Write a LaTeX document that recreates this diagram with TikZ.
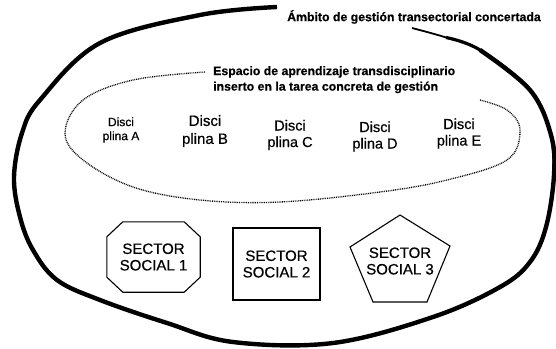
\documentclass[tikz,border=0pt]{standalone}
\usepackage{fontspec}
\setmainfont{Liberation Sans}
\newfontfamily\heavyfont{Liberation Sans}[FakeBold=0.5]
\newfontfamily\titlefont{Liberation Sans Bold}[FakeBold=0.6]
\begin{document}
\begin{tikzpicture}[x=1pt,y=-1pt,
  outerline/.style={line cap=butt,line join=round},
  innerline/.style={line width=1.3pt,dash pattern=on 0.9pt off 0.9pt},
  title/.style={font=\titlefont\fontsize{12.3}{15.5}\selectfont,inner sep=0pt},
  disc/.style={align=center,inner sep=0pt},
  sector/.style={font=\heavyfont\fontsize{15}{16.5}\selectfont,align=center,inner sep=0pt},
  shapeline/.style={line width=1.1pt,line join=miter}]
\path[use as bounding box] (0,0) rectangle (556,348);
% outer area (tapered start)
\draw[outerline,line width=1.8pt] plot[smooth,tension=0.6] coordinates {
 (412,28) (446,37.5) (480,50) (530,90) (551,135) (554,175)};
\draw[outerline,line width=3.2pt] plot[smooth,tension=0.6] coordinates {
 (446,37.5) (480,50) (530,90) (551,135) (554,175)};
\draw[outerline,line width=4.4pt] plot[smooth,tension=0.6] coordinates {
 (480,50) (530,90) (551,135) (554,175) (546,227) (530,262) (500,287)
 (433,317) (333,343) (233,342) (167,323) (100,300) (57,280) (33,250) (20,217)
 (14,177) (22,133) (40,100) (100,43) (200,15) (277,7)};
\node[title,anchor=west] (ambito) at (287,17) {Ámbito de gestión transectorial concertada};
% inner space
\draw[innerline] plot[smooth,tension=0.6] coordinates {
 (205,72) (133,80) (83,100) (65,133) (83,160) (133,187) (200,200) (280,202)
 (380,192) (447,180) (507,160) (520,130) (507,110) (480,100)};
\node[title,anchor=north west,align=left] (espacio) at (213,66)
 {Espacio de aprendizaje transdisciplinario\\inserto en la tarea concreta de gestión};
% disciplines
\node[disc,font=\heavyfont\fontsize{12}{14}\selectfont] (da) at (121,130) {Disci\\plina A};
\node[disc,font=\heavyfont\fontsize{15}{18}\selectfont] (db) at (205,131) {Disci\\plina B};
\node[disc,font=\heavyfont\fontsize{14.5}{16.5}\selectfont] (dc) at (290,135) {Disci\\plina C};
\node[disc,font=\heavyfont\fontsize{14.5}{16.5}\selectfont] (dd) at (375,136.5) {Disci\\plina D};
\node[disc,font=\heavyfont\fontsize{14.5}{16.5}\selectfont] (de) at (459,133.5) {Disci\\plina E};
% sectors
\node[sector,minimum width=93pt,minimum height=70pt] (s1) at (153.5,257) {SECTOR\\SOCIAL 1};
\draw[shapeline] ([xshift=16pt]s1.north west) -- ([xshift=-16pt]s1.north east)
  -- ([yshift=-15pt]s1.north east) -- ([yshift=15pt]s1.south east)
  -- ([xshift=-16pt]s1.south east) -- ([xshift=16pt]s1.south west)
  -- ([yshift=15pt]s1.south west) -- ([yshift=-15pt]s1.north west) -- cycle;
\node[sector,draw,shapeline,line width=1.4pt,minimum width=87pt,minimum height=72pt] (s2) at (276.5,264) {SECTOR\\SOCIAL 2};
\node[sector] (s3) at (400,261) {SECTOR\\SOCIAL 3};
\draw[shapeline,shift={(s3.center)}] (0,-46) -- (50,-15) -- (27,41) -- (-27,41) -- (-50,-14) -- cycle;
\end{tikzpicture}
\end{document}
